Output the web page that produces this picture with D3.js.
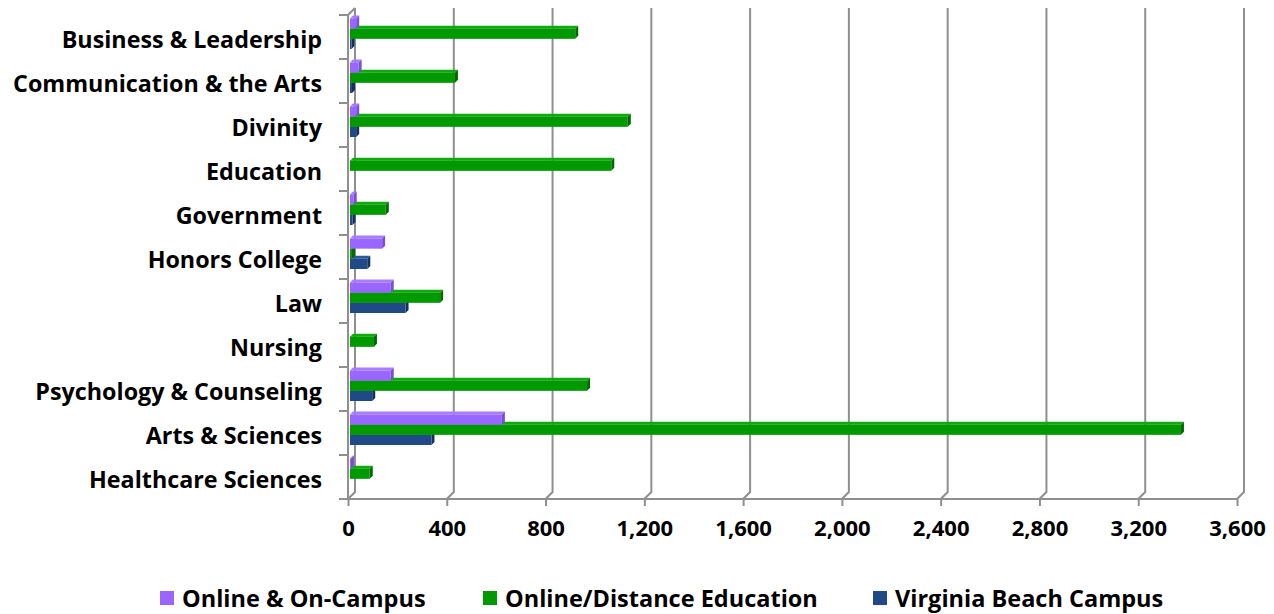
<!DOCTYPE html>
<html><head><meta charset="utf-8">
<script src="https://cdn.jsdelivr.net/npm/d3@7"></script>
<style>
html,body{margin:0;padding:0;background:#fff;}
svg{display:block;}
text{font-family:"Open Sans",Lato,sans-serif;font-weight:bold;fill:#000;}
</style></head>
<body>
<svg id="chart" width="1274" height="614"></svg>
<script>
const categories = ["Business & Leadership","Communication & the Arts","Divinity","Education","Government","Honors College","Law","Nursing","Psychology & Counseling","Arts & Sciences","Healthcare Sciences"];
const seriesNames = ["Online & On-Campus","Online/Distance Education","Virginia Beach Campus"];
const onlineOnCampus = [25, 35, 25, 0, 15, 130, 165, 0, 165, 615, 4];
const onlineDistance = [912, 425, 1125, 1058, 145, 8, 365, 97, 960, 3365, 80];
const virginiaBeach = [6, 8, 25, 0, 10, 70, 225, 0, 90, 330, 0];
const xTicks = [0,400,800,1200,1600,2000,2400,2800,3200,3600];
const colors = ["#9966ff","#009a00","#1f4a87"];
const sideColors = ["#7a4fd6","#006a00","#14315c"];
const topColors = ["#a87cff","#10aa10","#2b5a9a"];

const svg = d3.select("#chart");
const x = d3.scaleLinear().domain([0,3600]).range([348,1237]);
const y = d3.scaleBand().domain(categories).range([15,499]);
const ys = d3.scaleBand().domain(seriesNames).range([0,30.5]);
const DX = 7, DY = -7; // wall depth
const bx = 2, by = 3.5; // bar plane offset
const bd = 3; // bar depth
const FONT = "'Open Sans', Lato, sans-serif";

const grid = svg.append("g").attr("stroke","#8f8f8f").attr("stroke-width",2).attr("fill","none");
xTicks.forEach(t=>{
  const xv = x(t);
  grid.append("path").attr("d",`M${xv+DX},${15+DY} L${xv+DX},${499+DY} L${xv},499`);
});
grid.append("path").attr("d",`M${x(0)},499 L${x(0)},15 L${x(0)+DX},${15+DY}`);
grid.append("line").attr("x1",340).attr("x2",x(3600)).attr("y1",499).attr("y2",499);

const xAxis = d3.axisBottom(x).tickValues(xTicks).tickSize(7).tickFormat(d3.format(",")).tickPadding(14);
const xg = svg.append("g").attr("transform","translate(0,499)").call(xAxis);
xg.select(".domain").remove();
xg.selectAll("line").attr("stroke","#8f8f8f").attr("stroke-width",2);
xg.selectAll("text").style("font-size","22px").style("font-family",FONT).style("font-weight","bold").attr("fill","#000");

const yTickPos = categories.map(c=>y(c)).concat([499]);
svg.append("g").selectAll("line").data(yTickPos).join("line")
  .attr("x1",339).attr("x2",x(0)).attr("y1",d=>d).attr("y2",d=>d)
  .attr("stroke","#8f8f8f").attr("stroke-width",2);
svg.append("g").selectAll("text").data(categories).join("text")
  .attr("x",322).attr("y",c=>y(c)+y.bandwidth()/2+2)
  .attr("text-anchor","end").attr("dominant-baseline","central")
  .style("font-size","23.3px").text(c=>c);

const allSeries = [onlineOnCampus, onlineDistance, virginiaBeach];
const bars = svg.append("g");
categories.forEach((c,i)=>{
  for(let s=2;s>=0;s--){
    const v = allSeries[s][i];
    if(v<=0) continue;
    const x0 = x(0)+bx, x1 = x(v)+bx;
    const y0 = y(c)+by+ys(seriesNames[s]), h = ys.bandwidth();
    const g = bars.append("g");
    g.append("path").attr("d",`M${x0},${y0} L${x0+bd},${y0-bd} L${x1+bd},${y0-bd} L${x1},${y0} Z`).attr("fill",topColors[s]);
    g.append("path").attr("d",`M${x1},${y0} L${x1+bd},${y0-bd} L${x1+bd},${y0+h-bd} L${x1},${y0+h} Z`).attr("fill",sideColors[s]);
    g.append("rect").attr("x",x0).attr("y",y0).attr("width",Math.max(0.5,x1-x0)).attr("height",h).attr("fill",colors[s]);
  }
});

const legendX = [160,483,873];
const lg = svg.append("g");
seriesNames.forEach((n,s)=>{
  lg.append("rect").attr("x",legendX[s]).attr("y",591).attr("width",14).attr("height",14).attr("fill",colors[s]);
  lg.append("text").attr("x",legendX[s]+22).attr("y",598).attr("dominant-baseline","central").style("font-size","23.5px").text(n);
});
</script>
</body></html>
